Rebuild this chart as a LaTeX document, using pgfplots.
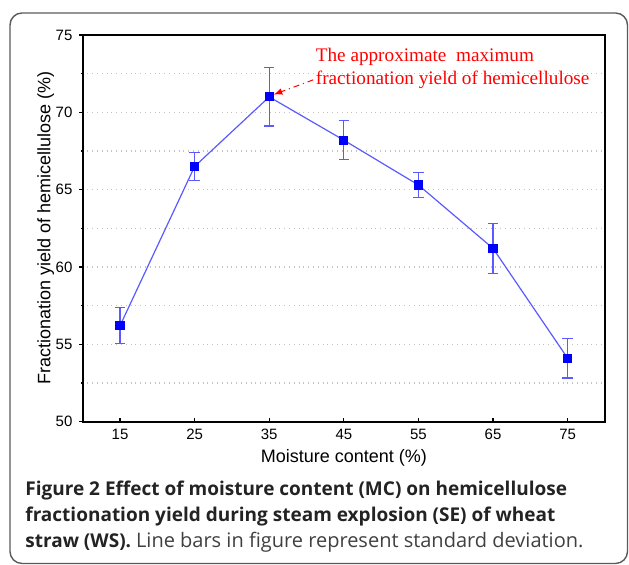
\documentclass[border=0pt]{standalone}
\usepackage{pgfplots}
\pgfplotsset{compat=1.18}
\usepackage{fontspec}
\setmainfont{Liberation Sans}
\newfontfamily\timesf{Liberation Serif}
\newfontfamily\capf{Open Sans}
\definecolor{lineblue}{RGB}{90,90,255}
\definecolor{gridgray}{RGB}{195,195,195}
\definecolor{boxgray}{RGB}{90,90,90}
\definecolor{captext}{RGB}{35,35,35}

\begin{document}
\begin{tikzpicture}[x=0.5pt,y=0.5pt]
\useasboundingbox (0,0) rectangle (629,565);
% frame of the figure panel
\draw[boxgray, line width=0.7pt, rounded corners=6pt] (10,552) rectangle (627.5,1.5);
\coordinate (axnw) at (82.7,530);

\begin{axis}[
    at={(axnw)}, anchor=north west,
    scale only axis,
    width=261.15pt, height=193.35pt,
    xmin=10, xmax=80, ymin=50, ymax=75,
    xtick={15,25,...,75},
    ytick={50,55,...,75},
    minor ytick={52.5,57.5,...,72.5},
    ymajorgrids, yminorgrids,
    major grid style={gridgray, dotted, line width=0.6pt},
    minor grid style={gridgray, dotted, line width=0.6pt},
    axis line style={line width=1pt},
    xtick align=inside, ytick align=outside,
    major tick length=1.6pt, minor tick length=0.8pt,
    tick style={black, line width=0.6pt},
    xtick pos=bottom, ytick pos=left,
    /pgf/number format/assume math mode=true,
    ticklabel style={font=\fontsize{7.5}{9}\selectfont},
    xlabel={Moisture content (\%)},
    ylabel={Fractionation yield of hemicellulose (\%)},
    label style={font=\fontsize{9}{11}\selectfont},
    xlabel style={yshift=2pt},
    ylabel style={yshift=-6pt},
    clip=false,
]
\addplot[lineblue, line width=0.6pt,
    mark=square*, mark size=2pt,
    mark options={draw=blue, fill=blue},
    error bars/.cd, y dir=both, y explicit,
    error bar style={color=lineblue, line width=0.6pt},
    error mark options={rotate=90, color=lineblue, draw=lineblue, mark size=2.6pt, line width=0.6pt}]
table[x=mc, y=yield, y error=sd] {
mc yield sd
15 56.2 1.17
25 66.5 0.91
35 71.0 1.88
45 68.2 1.25
55 65.3 0.80
65 61.2 1.60
75 54.1 1.28
};
\node[anchor=base west, text=red, inner sep=0pt, font=\timesf\fontsize{9.6}{11}\selectfont]
  at (axis cs:41.2,73.27) {The approximate\ \ maximum};
\node[anchor=base west, text=red, inner sep=0pt, font=\timesf\fontsize{9.6}{11}\selectfont]
  at (axis cs:41.2,71.77) {fractionation\ yield\ of\ hemicellulose};
\draw[red, line width=0.5pt, dash dot, -latex] (axis cs:40.9,72.1) -- (axis cs:35.6,71.15);
\end{axis}

% caption
\node[anchor=base west, inner sep=0pt, text=captext, font=\capf\bfseries\fontsize{9.5}{12}\selectfont]
  at (25,565-496) {Figure 2 Effect of moisture content (MC) on hemicellulose};
\node[anchor=base west, inner sep=0pt, text=captext, font=\capf\bfseries\fontsize{9.5}{12}\selectfont]
  at (25,565-522) {fractionation yield during steam explosion (SE) of wheat};
\node[anchor=base west, inner sep=0pt, text=captext, font=\capf\fontsize{9.5}{12}\selectfont]
  at (25,565-548) {\textbf{straw (WS).} {\fontsize{10}{12}\selectfont\color{black!75}Line bars in figure represent standard deviation.}};
\end{tikzpicture}
\end{document}
